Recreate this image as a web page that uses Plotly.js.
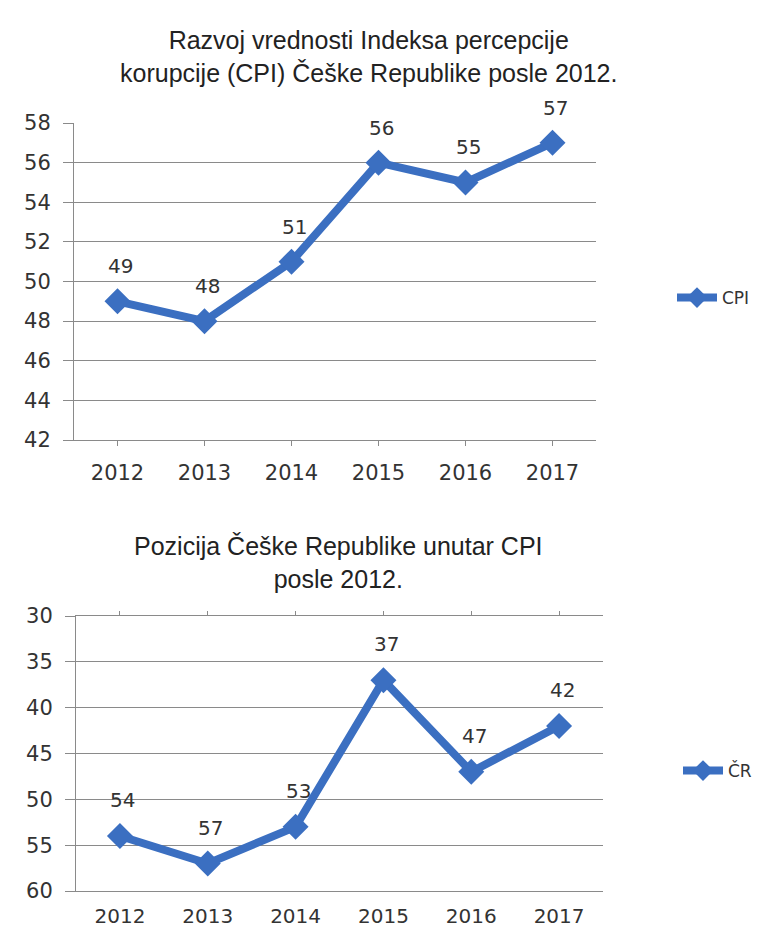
<!DOCTYPE html>
<html>
<head>
<meta charset="utf-8">
<script src="https://cdn.plot.ly/plotly-3.0.1.min.js"></script>
<style>html,body{margin:0;padding:0;background:#fff;}#chart{width:761px;height:931px;}</style>
</head>
<body>
<div id="chart"></div>
<script>
const years = ['2012', '2013', '2014', '2015', '2016', '2017'];
const cpiValues = [49, 48, 51, 56, 55, 57];
const rankValues = [54, 57, 53, 37, 47, 42];
const seriesNames = ['CPI', 'ČR'];
const titles = [
  'Razvoj vrednosti Indeksa percepcije<br>korupcije (CPI) Češke Republike posle 2012.',
  'Pozicija Češke Republike unutar CPI<br>posle 2012.'
];

const blue = '#3b6fc1';
const grid = '#8a8a8a';
const txt = '#333333';
const tickFont = {family: 'DejaVu Sans', size: 21, color: txt};
const bottomTickFont = {family: 'DejaVu Sans', size: 20, color: txt};
const labelFont = {family: 'DejaVu Sans', size: 20, color: txt};

const traces = [
  {x: years, y: cpiValues, name: seriesNames[0], xaxis: 'x', yaxis: 'y', type: 'scatter', mode: 'lines+markers',
   line: {color: blue, width: 8}, marker: {symbol: 'diamond', size: 20, color: blue}, legend: 'legend', hoverinfo: 'skip'},
  {x: years, y: rankValues, name: seriesNames[1], xaxis: 'x2', yaxis: 'y2', type: 'scatter', mode: 'lines+markers',
   line: {color: blue, width: 8}, marker: {symbol: 'diamond', size: 20, color: blue}, legend: 'legend2', hoverinfo: 'skip'},
  {x: years, y: rankValues, xaxis: 'x3', yaxis: 'y2', type: 'scatter', mode: 'none', showlegend: false, hoverinfo: 'skip'}
];

const annotations = [];
years.forEach((yr, i) => {
  annotations.push({x: i, y: cpiValues[i], xref: 'x', yref: 'y', text: String(cpiValues[i]), showarrow: false,
    yanchor: 'middle', xanchor: 'center', yshift: 35, xshift: 3, font: labelFont});
  annotations.push({x: i, y: rankValues[i], xref: 'x2', yref: 'y2', text: String(rankValues[i]), showarrow: false,
    yanchor: 'middle', xanchor: 'center', yshift: 36, xshift: 3, font: labelFont});
});
annotations.push({text: titles[0], xref: 'paper', yref: 'paper', x: 368/761, y: 1 - 57/931, xanchor: 'center', yanchor: 'middle',
  showarrow: false, font: {family: 'Liberation Sans', size: 25, color: '#222'}, align: 'center'});
annotations.push({text: titles[1], xref: 'paper', yref: 'paper', x: 338/761, y: 1 - 562/931, xanchor: 'center', yanchor: 'middle',
  showarrow: false, font: {family: 'Liberation Sans', size: 25, color: '#222'}, align: 'center'});

const yCommon = {showline: true, linecolor: grid, linewidth: 1, showgrid: true, gridcolor: grid, gridwidth: 1,
  ticks: 'outside', ticklen: 10, tickcolor: grid, tickfont: tickFont, zeroline: false, ticklabelstandoff: 8, fixedrange: true};

const layout = {
  width: 761, height: 931,
  margin: {l: 0, r: 0, t: 0, b: 0},
  paper_bgcolor: '#fff', plot_bgcolor: '#fff',
  showlegend: true,
  xaxis: {domain: [74/761, 596/761], anchor: 'y', type: 'category', range: [-0.5, 5.5], showline: true, linecolor: grid,
    ticks: 'outside', ticklen: 5, tickcolor: grid, tickfont: tickFont, showgrid: false, ticklabelstandoff: 9},
  yaxis: Object.assign({}, yCommon, {domain: [1 - 440/931, 1 - 123/931], anchor: 'x', range: [42, 58], dtick: 2, tick0: 42}),
  xaxis2: {domain: [76/761, 603/761], anchor: 'y2', type: 'category', range: [-0.5, 5.5], showline: true, linecolor: grid,
    ticks: '', tickfont: bottomTickFont, showgrid: false, ticklabelstandoff: 7},
  xaxis3: {domain: [76/761, 603/761], anchor: 'y2', overlaying: 'x2', side: 'top', type: 'category', range: [-0.5, 5.5],
    showline: true, linecolor: grid, ticks: 'outside', ticklen: 4, tickcolor: grid, showticklabels: false, showgrid: false},
  yaxis2: Object.assign({}, yCommon, {domain: [1 - 891/931, 1 - 616/931], anchor: 'x2', range: [60, 30], dtick: 5, tick0: 30}),
  legend: {x: 672/761, y: 1 - 298/931, xanchor: 'left', yanchor: 'middle', font: {family: 'DejaVu Sans', size: 17, color: txt},
    bgcolor: 'rgba(0,0,0,0)', itemwidth: 40},
  legend2: {x: 678/761, y: 1 - 771/931, xanchor: 'left', yanchor: 'middle', font: {family: 'DejaVu Sans', size: 17, color: txt},
    bgcolor: 'rgba(0,0,0,0)', itemwidth: 40},
  annotations: annotations
};

Plotly.newPlot('chart', traces, layout, {displayModeBar: false, staticPlot: true});
</script>
</body>
</html>
